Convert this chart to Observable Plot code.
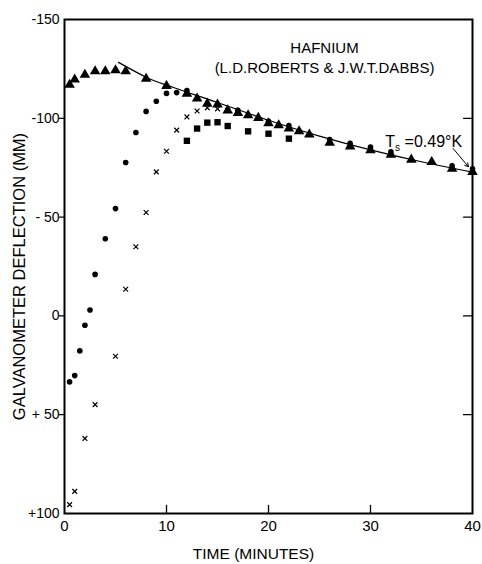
<!DOCTYPE html>
<html><head><meta charset="utf-8">
<script src="https://cdn.jsdelivr.net/npm/d3@7"></script>
<script src="https://cdn.jsdelivr.net/npm/@observablehq/plot@0.6"></script>
<style>body{margin:0;background:#fff} svg{display:block}</style>
</head><body><div id="chart"></div>
<script>
// Triangles
const triT = [0.5,1,2,3,4,5,6,8,10,12,13,14,15,16,17,18,19,20,21,22,23,24,26,28,30,32,34,36,38,40];
const triV = [-117,-119.6,-122,-123.8,-123.8,-124.3,-123.8,-120,-116.4,-112.5,-110,-107.4,-107,-104,-102.7,-101.5,-100.2,-97.5,-96.5,-94.8,-93.4,-91.8,-87.7,-85.8,-83.8,-81.6,-79.1,-77.9,-74.5,-72.9];
// Circles
const circT = [0.5,1,1.5,2,2.5,3,4,5,6,7,8,9,10,11,12,17,20,22,26,28,30,32,38,40];
const circV = [33.4,30.2,17.7,4.7,-3,-21,-39,-54.3,-77.6,-92.8,-103.5,-108.6,-112.6,-113,-114,-104,-98.5,-96.3,-89.3,-87.4,-85.4,-83,-76,-74.5];
// Crosses
const crossT = [0.5,1,2,3,5,6,7,8,9,10,11,12,13,14,15,16,17];
const crossV = [95.5,88.8,62,44.9,20.4,-13.5,-35,-52.3,-72.9,-83.3,-94,-100.7,-103.7,-105.3,-104.8,-104,-103];
// Squares
const sqT = [12,13,14,15,16,18,20,22];
const sqV = [-88.6,-94.8,-97.8,-98,-96.1,-93.4,-92.2,-89.7];
// Fitted curve
const fitT = [5.3,8,10,12,15,20,25,30,35,40];
const fitV = [-128.3,-120.8,-116.8,-113.2,-108,-99,-91,-84,-78,-72.8];
// Axes
const xTicks = [0,10,20,30,40];
const xInnerTicks = [10,20,30];
const yTicks = [-150,-100,-50,0,50,100];
const yTickLabels = ["-150","-100","- 50","0","+ 50","+100"];
const yInnerTicks = [-100,-50,0,50];
const titleLines = ["HAFNIUM","(L.D.ROBERTS & J.W.T.DABBS)"];
const xLabel = "TIME (MINUTES)";
const yLabel = "GALVANOMETER DEFLECTION (MM)";
// Annotation
const annText = "Ts =0.49°K";
const arrowFrom = {t: 38.1, v: -84.7};
const arrowTo = {t: 39.6, v: -75.5};

const zip = (a, b) => a.map((t, i) => ({t, v: b[i]}));
const tri = zip(triT, triV), circ = zip(circT, circV), cross = zip(crossT, crossV), sq = zip(sqT, sqV), fit = zip(fitT, fitV);
const tickShape = {draw(ctx, l) { ctx.moveTo(0, 0); ctx.lineTo(0, -l); }};

const chart = Plot.plot({
  width: 482, height: 564,
  marginLeft: 64, marginRight: 10, marginTop: 19, marginBottom: 51,
  style: {fontFamily: "'Liberation Sans', Arial, sans-serif", background: "white", color: "black"},
  x: {domain: [0, 40]},
  y: {domain: [100, -150]},
  marks: [
    Plot.axisX({ticks: xTicks, tickSize: 0, tickPadding: 7, fontSize: 15, label: null}),
    Plot.axisY({ticks: yTicks, tickSize: 0, tickPadding: 5, fontSize: 14, label: null,
      tickFormat: d => yTickLabels[yTicks.indexOf(d)]}),
    Plot.vector(xInnerTicks, {x: d => d, frameAnchor: "bottom", length: 8, anchor: "start", shape: tickShape, stroke: "black", strokeWidth: 1.3}),
    Plot.vector(yInnerTicks, {y: d => d, frameAnchor: "left", length: 5, rotate: -90, anchor: "start", shape: tickShape, stroke: "black", strokeWidth: 1.3}),
    Plot.vector(yInnerTicks, {y: d => d, frameAnchor: "right", length: 9, rotate: -90, anchor: "start", shape: tickShape, stroke: "black", strokeWidth: 1.3}),
    Plot.frame({stroke: "black", strokeWidth: 2}),
    Plot.line(fit, {x: "t", y: "v", curve: "natural", stroke: "black", strokeWidth: 1.2}),
    Plot.dot(sq, {x: "t", y: "v", symbol: "square", r: 3.6, fill: "black"}),
    Plot.dot(cross, {x: "t", y: "v", symbol: "times", r: 2.3, stroke: "black", strokeWidth: 1.2}),
    Plot.dot(circ, {x: "t", y: "v", symbol: "circle", r: 2.8, fill: "black"}),
    Plot.dot(tri, {x: "t", y: "v", symbol: "triangle", r: 3.9, fill: "black"}),
    Plot.arrow([{}], {x1: () => arrowFrom.t, y1: () => arrowFrom.v, x2: () => arrowTo.t, y2: () => arrowTo.v, stroke: "black", strokeWidth: 1, headLength: 6}),
    Plot.text([annText], {x: () => arrowFrom.t, y: () => arrowFrom.v, text: d => d, dx: 9, dy: -2, textAnchor: "end", lineAnchor: "bottom", fontSize: 16, className: "ann"}),
    Plot.text([titleLines.join("\n")], {frameAnchor: "top", dx: 56, dy: 19, lineAnchor: "top", textAnchor: "middle", fontSize: 15, lineHeight: 1.33}),
    Plot.text([yLabel], {frameAnchor: "left", rotate: -90, dx: -45, dy: 10, textAnchor: "middle", fontSize: 16.5}),
    Plot.text([xLabel], {frameAnchor: "bottom", dx: -15, dy: 45, lineAnchor: "bottom", textAnchor: "middle", fontSize: 15.5})
  ]
});
document.getElementById("chart").appendChild(chart);
// subscript s in Ts
d3.select(chart).selectAll("g.ann text").each(function() {
  const el = d3.select(this);
  el.text("");
  el.append("tspan").text("T");
  el.append("tspan").attr("font-size", 10).attr("dy", 4).text("s");
  el.append("tspan").attr("dy", -4).text(" =0.49°K");
});
</script>
</body></html>
